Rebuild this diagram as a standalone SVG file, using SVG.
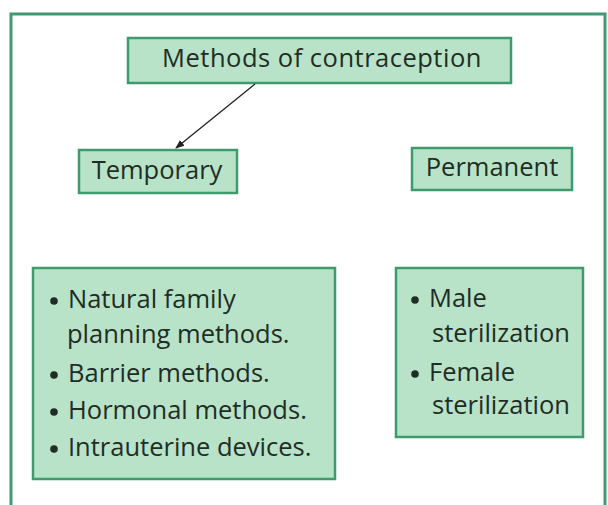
<svg xmlns="http://www.w3.org/2000/svg" width="608" height="505" viewBox="0 0 608 505">
<defs>
<marker id="ah" viewBox="0 0 10 10" refX="9" refY="5" markerWidth="9" markerHeight="9" orient="auto-start-reverse" markerUnits="userSpaceOnUse">
<path d="M0,1 L10,5 L0,9 z" fill="#222"/>
</marker>
<style>
.box{fill:#b8e3c8;stroke:#3f9a6c;stroke-width:2.5}
.t{font-family:"Open Sans","Noto Sans","DejaVu Sans",sans-serif;font-size:25.5px;font-weight:500;fill:#1f2d25}
.b{fill:#1f2d25}
.frame{fill:#ffffff;stroke:#3f9a74;stroke-width:3}
</style>
</defs>
<rect x="0" y="0" width="608" height="505" fill="#ffffff"/>
<path class="frame" d="M11,507 L11,14 L605,14 L605,507"/>
<g id="title">
<rect class="box" x="128" y="38" width="383" height="45"/>
<text class="t" x="322" y="67" text-anchor="middle" font-size="26" letter-spacing="0.5">Methods of contraception</text>
</g>
<g id="temporary">
<rect class="box" x="79" y="150" width="158" height="43"/>
<text class="t" x="157" y="179" text-anchor="middle">Temporary</text>
</g>
<g id="permanent">
<rect class="box" x="412" y="148" width="160" height="42"/>
<text class="t" x="492" y="176" text-anchor="middle">Permanent</text>
</g>
<g id="temporary-list">
<rect class="box" x="33" y="268" width="302" height="211"/>
<circle class="b" cx="54" cy="301" r="3.8"/>
<circle class="b" cx="54" cy="375" r="3.8"/>
<circle class="b" cx="54" cy="412" r="3.8"/>
<circle class="b" cx="54" cy="449" r="3.8"/>
<text class="t"><tspan x="68" y="308">Natural family</tspan><tspan x="67" y="343">planning methods.</tspan><tspan x="68" y="382">Barrier methods.</tspan><tspan x="68" y="419">Hormonal methods.</tspan><tspan x="68" y="456">Intrauterine devices.</tspan></text>
</g>
<g id="permanent-list">
<rect class="box" x="396" y="268" width="187" height="169"/>
<circle class="b" cx="415" cy="300" r="3.8"/>
<circle class="b" cx="415" cy="374" r="3.8"/>
<text class="t"><tspan x="429" y="307">Male</tspan><tspan x="432" y="342">sterilization</tspan><tspan x="429" y="381">Female</tspan><tspan x="432" y="414">sterilization</tspan></text>
</g>
<g id="connectors">
<line x1="255" y1="84" x2="176" y2="148" stroke="#222" stroke-width="1.3" marker-end="url(#ah)"/>
</g>
</svg>
